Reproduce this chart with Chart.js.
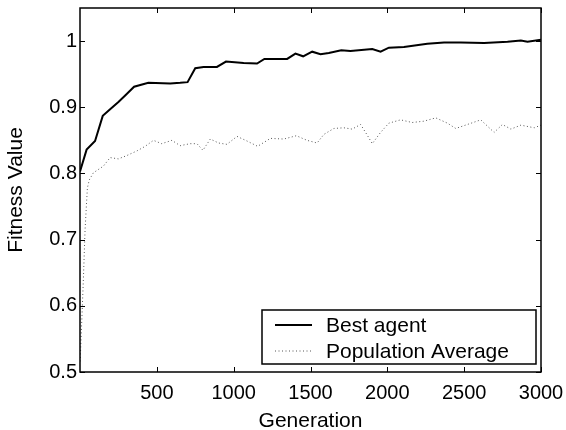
<!DOCTYPE html>
<html>
<head>
<meta charset="utf-8">
<script src="https://cdn.jsdelivr.net/npm/chart.js@4.4.0/dist/chart.umd.min.js"></script>
<style>
  html, body { margin: 0; padding: 0; background: #fff; }
  #wrap { width: 566px; height: 430px; }
</style>
</head>
<body>
<div id="wrap"><canvas id="fitChart"></canvas></div>
<script>
// values
const bestGen = [0, 43, 98, 148, 196, 250, 304, 352, 445, 587, 652, 700, 750, 804, 891, 950, 1065, 1152, 1200, 1348, 1402, 1452, 1511, 1565, 1619, 1700, 1760, 1902, 1956, 2010, 2108, 2260, 2369, 2478, 2630, 2782, 2869, 2912, 3000];
const bestFit = [0.803, 0.836, 0.849, 0.887, 0.897, 0.908, 0.920, 0.931, 0.937, 0.936, 0.937, 0.938, 0.959, 0.961, 0.961, 0.969, 0.967, 0.966, 0.973, 0.973, 0.981, 0.977, 0.984, 0.980, 0.982, 0.986, 0.985, 0.988, 0.984, 0.990, 0.991, 0.996, 0.998, 0.998, 0.997, 0.999, 1.001, 0.999, 1.002];

const avgGen = [1, 11, 22, 33, 48, 60, 87, 152, 196, 250, 304, 370, 424, 478, 532, 598, 652, 717, 761, 800, 848, 902, 956, 1022, 1087, 1156, 1239, 1326, 1408, 1478, 1543, 1587, 1652, 1717, 1771, 1826, 1869, 1902, 1956, 2010, 2086, 2162, 2238, 2315, 2391, 2445, 2521, 2608, 2695, 2749, 2804, 2869, 2956, 3000];
const avgFit = [0.516, 0.574, 0.640, 0.715, 0.778, 0.790, 0.801, 0.811, 0.824, 0.822, 0.827, 0.834, 0.841, 0.850, 0.845, 0.850, 0.842, 0.845, 0.845, 0.835, 0.852, 0.846, 0.844, 0.856, 0.849, 0.841, 0.853, 0.852, 0.857, 0.850, 0.846, 0.859, 0.868, 0.869, 0.867, 0.874, 0.858, 0.845, 0.862, 0.876, 0.881, 0.877, 0.879, 0.884, 0.876, 0.868, 0.874, 0.881, 0.862, 0.874, 0.867, 0.873, 0.869, 0.873];

const seriesNames = ["Best agent", "Population Average"];
const xTicks = [500, 1000, 1500, 2000, 2500, 3000];
const yTicks = [0.5, 0.6, 0.7, 0.8, 0.9, 1.0];

const FONT = "'Liberation Sans', Arial, Helvetica, sans-serif";

// inward tick marks on all four sides plus the box frame
const frameTicks = {
  id: "frameTicks",
  afterDatasetsDraw(chart) {
    const { ctx, chartArea: ca, scales } = chart;
    const len = 5;
    ctx.save();
    ctx.strokeStyle = "#000";
    ctx.lineWidth = 1;
    ctx.beginPath();
    xTicks.forEach((v) => {
      const px = Math.round(scales.x.getPixelForValue(v)) + 0.5;
      ctx.moveTo(px, ca.bottom); ctx.lineTo(px, ca.bottom - len);
      ctx.moveTo(px, ca.top); ctx.lineTo(px, ca.top + len);
    });
    yTicks.forEach((v) => {
      const py = Math.round(scales.y.getPixelForValue(v)) + 0.5;
      ctx.moveTo(ca.left, py); ctx.lineTo(ca.left + len, py);
      ctx.moveTo(ca.right, py); ctx.lineTo(ca.right - len, py);
    });
    ctx.stroke();
    ctx.lineWidth = 1.5;
    ctx.strokeRect(ca.left, ca.top, ca.right - ca.left, ca.bottom - ca.top);
    ctx.restore();
  },
};

// legend box drawn inside the plot, bottom right
const boxLegend = {
  id: "boxLegend",
  afterDraw(chart) {
    const { ctx, chartArea: ca } = chart;
    const w = 274, h = 54;
    const x0 = ca.right - 5 - w, y0 = ca.bottom - 8 - h;
    ctx.save();
    ctx.fillStyle = "#fff";
    ctx.fillRect(x0, y0, w, h);
    ctx.strokeStyle = "#000";
    ctx.lineWidth = 1.5;
    ctx.strokeRect(x0, y0, w, h);
    chart.data.datasets.forEach((ds, i) => {
      const yy = y0 + 15 + i * 26;
      ctx.beginPath();
      ctx.strokeStyle = ds.borderColor;
      ctx.lineWidth = ds.borderWidth;
      ctx.setLineDash(ds.borderDash || []);
      ctx.moveTo(x0 + 13, yy);
      ctx.lineTo(x0 + 50, yy);
      ctx.stroke();
      ctx.setLineDash([]);
      ctx.fillStyle = "#000";
      ctx.font = "21px " + FONT;
      ctx.textBaseline = "middle";
      ctx.fillText(ds.label, x0 + 64, yy + 1);
    });
    ctx.restore();
  },
};

const toPoints = (xs, ys) => xs.map((x, i) => ({ x: x, y: ys[i] }));

new Chart(document.getElementById("fitChart"), {
  type: "line",
  data: {
    datasets: [
      {
        label: seriesNames[0],
        data: toPoints(bestGen, bestFit),
        borderColor: "#000",
        borderWidth: 2,
        pointRadius: 0,
        tension: 0,
      },
      {
        label: seriesNames[1],
        data: toPoints(avgGen, avgFit),
        borderColor: "#555",
        borderWidth: 1,
        borderDash: [1, 2.5],
        pointRadius: 0,
        tension: 0,
      },
    ],
  },
  options: {
    responsive: true,
    maintainAspectRatio: false,
    animation: false,
    layout: { padding: { left: 0, top: 8, right: 25, bottom: 0 } },
    plugins: {
      legend: { display: false },
      tooltip: { enabled: false },
    },
    scales: {
      x: {
        type: "linear",
        min: 0,
        max: 3000,
        afterBuildTicks: (scale) => { scale.ticks = xTicks.map((v) => ({ value: v })); },
        afterFit: (scale) => { scale.height = 58; scale.paddingLeft = 0; scale.paddingRight = 0; },
        grid: { display: false, drawTicks: false },
        border: { display: false },
        ticks: { color: "#000", padding: 9, maxRotation: 0, font: { family: FONT, size: 20 }, callback: (v) => String(v) },
        title: { display: true, text: "Generation", color: "#000", padding: { top: -4, bottom: -4 }, font: { family: FONT, size: 21 } },
      },
      y: {
        min: 0.5,
        max: 1.05,
        afterBuildTicks: (scale) => { scale.ticks = yTicks.map((v) => ({ value: v })); },
        afterFit: (scale) => { scale.width = 80; scale.paddingTop = 0; scale.paddingBottom = 0; },
        grid: { display: false, drawTicks: false },
        border: { display: false },
        ticks: { color: "#000", padding: 3, font: { family: FONT, size: 20 }, callback: (v) => String(+v.toFixed(1)) },
        title: { display: true, text: "Fitness Value", color: "#000", padding: { top: 4, bottom: 0 }, font: { family: FONT, size: 21 } },
      },
    },
  },
  plugins: [frameTicks, boxLegend],
});
</script>
</body>
</html>
